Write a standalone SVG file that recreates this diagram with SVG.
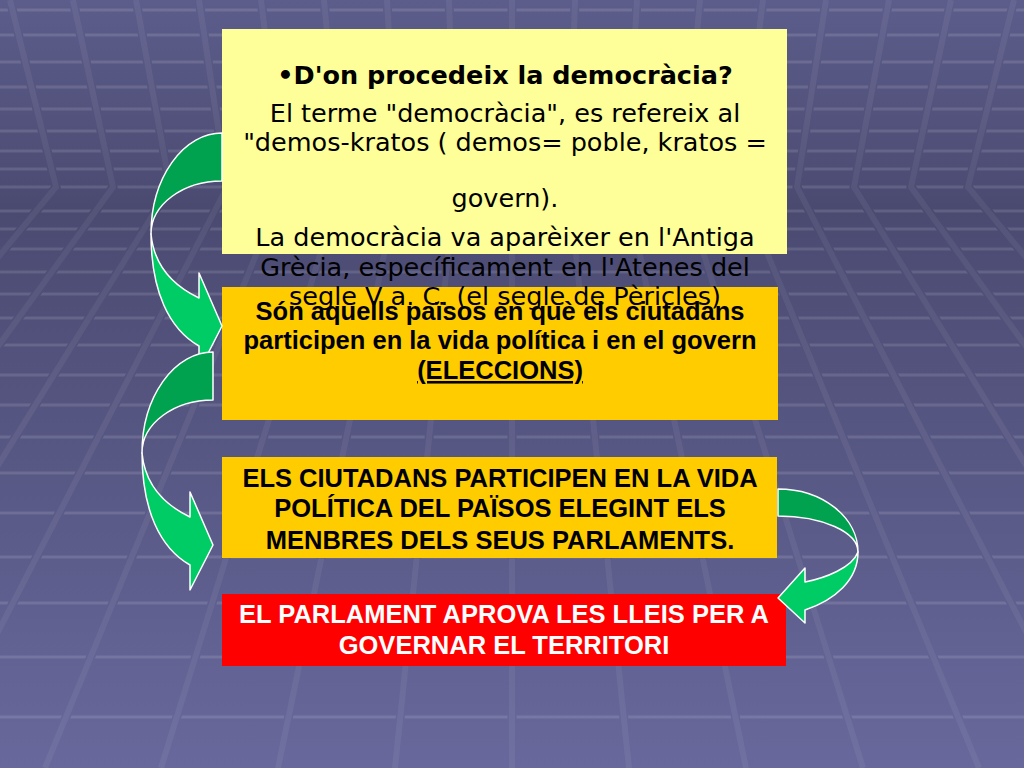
<svg xmlns="http://www.w3.org/2000/svg" width="1024" height="768" viewBox="0 0 1024 768">
  <defs>
    <linearGradient id="bg" gradientUnits="userSpaceOnUse" x1="0" y1="0" x2="0" y2="768">
      <stop offset="0" stop-color="#5d5d8c"/>
      <stop offset="0.27" stop-color="#4a4a71"/>
      <stop offset="1" stop-color="#68689c"/>
    </linearGradient>
    <style>
      .hl { stroke: #ffffff; stroke-opacity: 0.12; stroke-width: 3; fill: none; }
      .dg { stroke: url(#bg); stroke-width: 9; fill: none; }
      .dl { stroke: #ffffff; stroke-opacity: 0.06; stroke-width: 6; fill: none; }
      .dark { fill: #00a24f; stroke: #ffffff; stroke-width: 1.5; stroke-linejoin: round; }
      .light { fill: #00cc66; stroke: #ffffff; stroke-width: 1.5; stroke-linejoin: round; }
      .ytxt { font-family: "DejaVu Sans", Verdana, sans-serif; font-size: 25.5px; fill: #000000; text-anchor: middle; }
      .ytitle { font-weight: bold; }
      .btxt { font-family: "Liberation Sans", Arial, sans-serif; font-size: 25.5px; font-weight: bold; fill: #000000; text-anchor: middle; }
      .wtxt { fill: #ffffff; }
      .ul { text-decoration: underline; }
    </style>
  </defs>

  <!-- background -->
  <rect x="0" y="0" width="1024" height="768" fill="url(#bg)"/>
  <g id="grid-h">
    <path class="hl" d="M0 10H1024M0 35H1024M0 62H1024M0 87H1024M0 109H1024M0 131H1024M0 151H1024M0 169H1024M0 187H1024M0 211H1024M0 229H1024M0 249H1024M0 272H1024M0 294H1024M0 318H1024M0 345H1024M0 375H1024M0 405H1024M0 437H1024M0 473H1024M0 513H1024M0 557H1024M0 603H1024M0 657H1024M0 717H1024"/>
  </g>
  <g id="grid-d">
    <path class="dg" d="M10 0L56 187L-423 768M73 0L113 187L-306 768M136 0L170 187L-189 768M199 0L227 187L-72 768M261 0L284 187L45 768M324 0L341 187L161 768M387 0L398 187L278 768M449 0L455 187L395 768M512 0L512 187L512 768M575 0L569 187L629 768M637 0L626 187L746 768M700 0L683 187L863 768M763 0L740 187L979 768M826 0L797 187L1096 768M889 0L854 187L1213 768M951 0L911 187L1330 768M1014 0L968 187L1447 768"/>
    <path class="dl" d="M10 0L56 187L-423 768M73 0L113 187L-306 768M136 0L170 187L-189 768M199 0L227 187L-72 768M261 0L284 187L45 768M324 0L341 187L161 768M387 0L398 187L278 768M449 0L455 187L395 768M512 0L512 187L512 768M575 0L569 187L629 768M637 0L626 187L746 768M700 0L683 187L863 768M763 0L740 187L979 768M826 0L797 187L1096 768M889 0L854 187L1213 768M951 0L911 187L1330 768M1014 0L968 187L1447 768"/>
  </g>

  <!-- node: orange box 1 -->
  <g id="node-definicio">
    <rect x="222" y="287" width="556" height="133" fill="#ffcc00"/>
    <text class="btxt" x="500" y="320">Són aquells països en què els ciutadans</text>
    <text class="btxt" x="500" y="349">participen en la vida política i en el govern</text>
    <text class="btxt ul" x="500" y="379">(ELECCIONS)</text>
  </g>

  <!-- node: yellow box -->
  <g id="node-origen">
    <rect x="222" y="29" width="565" height="225" fill="#ffff99"/>
    <text class="ytxt ytitle" x="505" y="84">•D'on procedeix la democràcia?</text>
    <text class="ytxt" x="505" y="122">El terme "democràcia", es refereix al</text>
    <text class="ytxt" x="505" y="151">"demos-kratos ( demos= poble, kratos =</text>
    <text class="ytxt" x="505" y="207">govern).</text>
    <text class="ytxt" x="505" y="246">La democràcia va aparèixer en l'Antiga</text>
    <text class="ytxt" x="505" y="276">Grècia, específicament en l'Atenes del</text>
    <text class="ytxt" x="505" y="305">segle V a. C. (el segle de Pèricles)</text>
  </g>

  <!-- node: orange box 2 -->
  <g id="node-ciutadans">
    <rect x="222" y="457" width="555" height="101" fill="#ffcc00"/>
    <text class="btxt" x="500" y="487">ELS CIUTADANS PARTICIPEN EN LA VIDA</text>
    <text class="btxt" x="500" y="517">POLÍTICA DEL PAÏSOS ELEGINT ELS</text>
    <text class="btxt" x="500" y="549">MENBRES DELS SEUS PARLAMENTS.</text>
  </g>

  <!-- node: red box -->
  <g id="node-parlament">
    <rect x="222" y="594" width="564" height="72" fill="#ff0000"/>
    <text class="btxt wtxt" x="504" y="623">EL PARLAMENT APROVA LES LLEIS PER A</text>
    <text class="btxt wtxt" x="504" y="654">GOVERNAR EL TERRITORI</text>
  </g>

  <!-- connectors -->
  <g id="connectors">
    <g id="arrow-1" transform="translate(9,-219)">
      <path class="dark" d="M213 352A71 101 0 0 0 142 453A71 53 0 0 1 213 400Z"/>
      <path class="light" d="M142 453C142 510 160 548 190 565L190 590L213 545L190 492L190 517C165 505 145 485 142 453Z"/>
    </g>
    <g id="arrow-2">
      <path class="dark" d="M213 352A71 101 0 0 0 142 453A71 53 0 0 1 213 400Z"/>
      <path class="light" d="M142 453C142 510 160 548 190 565L190 590L213 545L190 492L190 517C165 505 145 485 142 453Z"/>
    </g>
    <g id="arrow-3">
      <path class="dark" d="M778 489A80 63 0 0 1 858 552A80 36 0 0 0 778 516Z"/>
      <path class="light" d="M858 552C858 580 835 600 805 610L805 623L778 598L805 568L805 582C825 578 852 568 858 552Z"/>
    </g>
  </g>
</svg>
